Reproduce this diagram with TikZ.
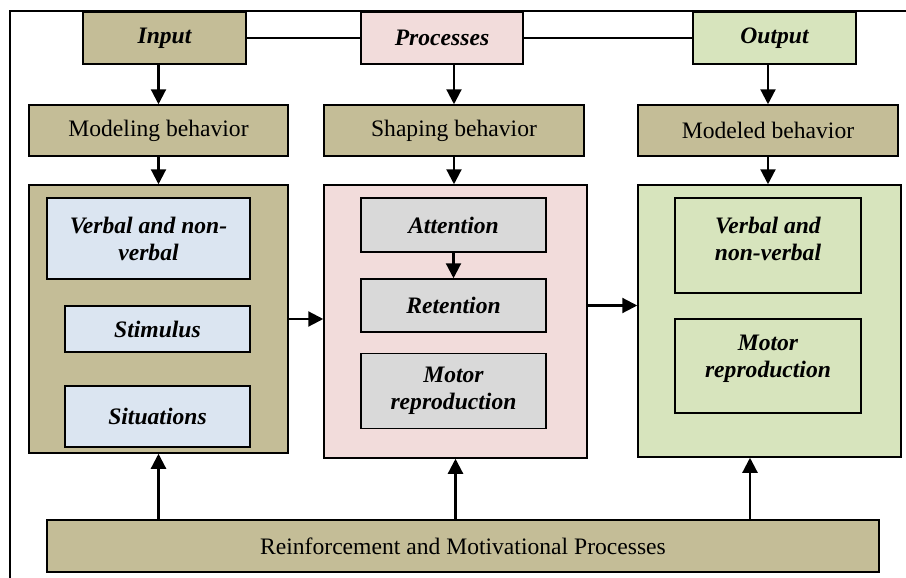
\documentclass[tikz,border=0pt]{standalone}
\usepackage{fontspec}
\setmainfont{Liberation Serif}
\usetikzlibrary{arrows.meta}
\definecolor{tanbox}{HTML}{C4BD97}
\definecolor{pinkbox}{HTML}{F2DCDB}
\definecolor{greenbox}{HTML}{D7E4BD}
\definecolor{bluebox}{HTML}{DBE5F1}
\definecolor{graybox}{HTML}{D9D9D9}
\begin{document}
\begin{tikzpicture}[x=0.5pt, y=-0.5pt,
		every node/.style={font=\fontsize{11.8}{13.5}\selectfont},
		box/.style={draw, line width=0.75pt, align=center, inner sep=0pt},
		title/.style={box, font=\fontsize{11.8}{13.5}\selectfont\bfseries\itshape},
		titletext/.style={align=center, inner sep=0pt, font=\fontsize{11.8}{13.5}\selectfont\bfseries\itshape},
		arr/.style={line width=1.1pt, -{Triangle[width=7.5pt, length=7.5pt]}}]
		\useasboundingbox (0, 0) rectangle (906, 578);
		\draw[line width=0.55pt] (906, 11) -- (10, 11) -- (10, 578);
		% top row
		\node[title, fill=tanbox, minimum width=81.5pt, minimum height=26pt] (in) at (164.5, 38) {Input};
		\node[title, fill=pinkbox, minimum width=81pt, minimum height=26pt] (proc) at (442, 38) {Processes};
		\node[title, fill=greenbox, minimum width=81.5pt, minimum height=26pt] (out) at (774.5, 38) {Output};
		\draw[line width=0.75pt] (in.east) -- (proc.west) (proc.east) -- (out.west);
		% behaviour boxes
		\node[box, fill=tanbox, minimum width=129.5pt, minimum height=25.5pt] (modeling) at (158.5, 130.5) {Modeling behavior};
		\node[box, fill=tanbox, minimum width=130pt, minimum height=25.5pt] (shaping) at (454, 130.5) {Shaping behavior};
		\node[box, fill=tanbox, minimum width=130pt, minimum height=25.5pt] (modeled) at (768, 130.5) {Modeled behavior};
		% big boxes
		\node[box, fill=tanbox, minimum width=129.5pt, minimum height=134pt] (leftbox) at (158.5, 319) {};
		\node[box, fill=pinkbox, minimum width=131.5pt, minimum height=136.5pt] (midbox) at (455.5, 321.5) {};
		\node[box, fill=greenbox, minimum width=131.5pt, minimum height=136pt] (rightbox) at (769.5, 321) {};
		% inside left
		\node[title, fill=bluebox, minimum width=101.5pt, minimum height=40.5pt] (lverb) at (148.5, 238.5) {Verbal and non-\\verbal};
		\node[title, fill=bluebox, minimum width=92.5pt, minimum height=23pt] (stim) at (157.5, 329) {Stimulus};
		\node[title, fill=bluebox, minimum width=92.5pt, minimum height=30.5pt] (sit) at (157.5, 416.5) {Situations};
		% inside middle
		\node[title, fill=graybox, minimum width=92.5pt, minimum height=27pt] (att) at (453.5, 225) {Attention};
		\node[title, fill=graybox, minimum width=92.5pt, minimum height=26.5pt] (ret) at (453.5, 305.5) {Retention};
		\node[title, fill=graybox, minimum width=92.5pt, minimum height=37.5pt] (motor) at (453.5, 391) {Motor\\reproduction};
		% inside right
		\node[box, minimum width=93pt, minimum height=47.5pt] (rverb) at (768, 245.5) {};
		\node[titletext] at ([yshift=3.5pt]rverb.center) {Verbal and\\non-verbal};
		\node[box, minimum width=93pt, minimum height=47pt] (rmotor) at (768, 366) {};
		\node[titletext] at ([yshift=3.5pt]rmotor.center) {Motor\\reproduction};
		% bottom
		\node[box, fill=tanbox, minimum width=416pt, minimum height=26pt] (reinf) at (463, 546) {Reinforcement and Motivational Processes};
		% arrows
		\draw[arr] (modeling.north |- in.south) -- (modeling.north);
		\draw[arr] (shaping.north |- proc.south) -- (shaping.north);
		\draw[arr] (modeled.north |- out.south) -- (modeled.north);
		\draw[arr] (modeling.south) -- (modeling.south |- leftbox.north);
		\draw[arr] (shaping.south) -- (shaping.south |- midbox.north);
		\draw[arr] (modeled.south) -- (modeled.south |- rightbox.north);
		\draw[arr] (att.south) -- (ret.north);
		\draw[arr] (leftbox.east) -- (leftbox.east -| midbox.west);
		\draw[arr] (ret -| midbox.east) -- (ret -| rightbox.west);
		\path (rightbox.south) ++(-19.5, 0) coordinate (ru);
		\draw[arr] (leftbox.south |- reinf.north) -- (leftbox.south);
		\draw[arr] (midbox.south |- reinf.north) -- (midbox.south);
		\draw[arr] (ru |- reinf.north) -- (ru);
	\end{tikzpicture}
\end{document}
